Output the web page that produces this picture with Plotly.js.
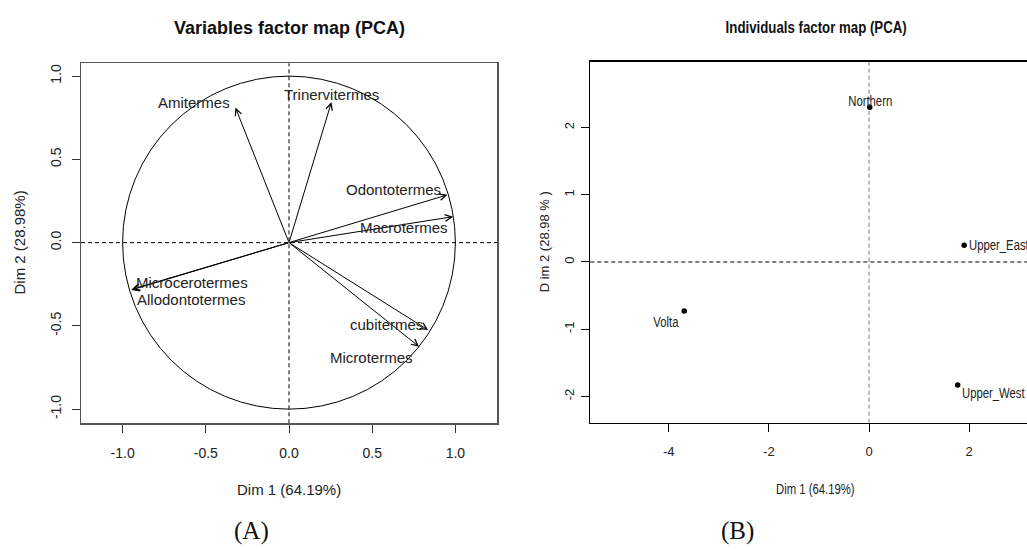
<!DOCTYPE html>
<html>
<head>
<meta charset="utf-8">
<script src="https://cdn.plot.ly/plotly-3.0.1.min.js"></script>
<style>
html,body{margin:0;padding:0;background:#fff;overflow:hidden;}
#chart{width:1080px;height:549px;}
</style>
</head>
<body>
<div id="chart"></div>
<script>
// ---- Data: variables factor map (correlation circle) ----
var varNames = ['Amitermes','Trinervitermes','Odontotermes','Macrotermes','Microcerotermes','Allodontotermes','cubitermes','Microtermes'];
var varDim1  = [-0.322, 0.255, 0.952, 0.986, -0.947, -0.944, 0.836, 0.782];
var varDim2  = [ 0.811, 0.844, 0.287, 0.156, -0.284, -0.280, -0.525, -0.625];
// label placement for each variable: anchor side and pixel offsets
var varLabAnchor = ['right','center','right','right','left','left','right','right'];
var varLabDx     = [-3, 0, -4, -3, 3, 3, -3, -4];
var varLabDy     = [ 5, 8,  5, -11, 7, -10, 6, -11];

// ---- Data: individuals factor map ----
var indNames = ['Northern','Upper_East','Volta','Upper_West'];
var indDim1  = [0.014, 1.90, -3.69, 1.77];
var indDim2  = [2.30, 0.248, -0.729, -1.83];
var indLabAnchor = ['center','left','right','left'];
var indLabDx     = [0, 3, -3, 2];
var indLabDy     = [6, 0, -11, -8];

// ---- Tick values / labels ----
var varTicks     = [-1.0, -0.5, 0.0, 0.5, 1.0];
var varTickText  = ['-1.0', '-0.5', '0.0', '0.5', '1.0'];
var indXTicks    = [-4, -2, 0, 2];
var indXTickText = ['-4', '-2', '0', '2'];
var indYTicks    = [-2, -1, 0, 1, 2];
var indYTickText = ['-2', '-1', '0', '1', '2'];
var circleRadius = 1;

var W = 1080, H = 549;
function dx(p){ return p / W; }
function dy(p){ return 1 - p / H; }

var sans = 'Liberation Sans, Arial, sans-serif';
var serif = 'Liberation Serif, Times New Roman, serif';

var traces = [
  {
    x: indDim1, y: indDim2, xaxis: 'x2', yaxis: 'y2',
    type: 'scatter', mode: 'markers',
    marker: {color: '#000', size: 5.5},
    hoverinfo: 'skip', showlegend: false
  }
];

var shapes = [
  {type: 'circle', xref: 'x', yref: 'y', x0: -circleRadius, x1: circleRadius, y0: -circleRadius, y1: circleRadius,
   line: {color: '#000', width: 1}, layer: 'below'},
  {type: 'line', xref: 'x', yref: 'y domain', x0: 0, x1: 0, y0: 0, y1: 1, line: {color: '#000', width: 1, dash: '4px,3px'}, layer: 'below'},
  {type: 'line', xref: 'x domain', yref: 'y', x0: 0, x1: 1, y0: 0, y1: 0, line: {color: '#000', width: 1, dash: '4px,3px'}, layer: 'below'},
  {type: 'line', xref: 'x2', yref: 'y2 domain', x0: 0, x1: 0, y0: 0, y1: 1, line: {color: '#777', width: 1, dash: '4px,3px'}, layer: 'below'},
  {type: 'line', xref: 'x2 domain', yref: 'y2', x0: 0, x1: 1, y0: 0, y1: 0, line: {color: '#000', width: 1, dash: '4px,3px'}, layer: 'below'}
];

var annotations = [];
var compress = []; // [annotation index, transform origin]
for (var i = 0; i < varNames.length; i++) {
  annotations.push({
    xref: 'x', yref: 'y', axref: 'x', ayref: 'y',
    x: varDim1[i], y: varDim2[i], ax: 0, ay: 0,
    text: ' ', font: {size: 1}, borderpad: 0,
    showarrow: true, arrowhead: 5, arrowsize: 1.3, arrowwidth: 1, arrowcolor: '#000'
  });
}
for (var i = 0; i < varNames.length; i++) {
  annotations.push({
    xref: 'x', yref: 'y', x: varDim1[i], y: varDim2[i],
    text: varNames[i], showarrow: false,
    xanchor: varLabAnchor[i], yanchor: 'middle',
    xshift: varLabDx[i], yshift: varLabDy[i],
    font: {family: sans, size: 15, color: '#222'}
  });
}
for (var i = 0; i < indNames.length; i++) {
  compress.push([annotations.length, indLabAnchor[i]]);
  annotations.push({
    xref: 'x2', yref: 'y2', x: indDim1[i], y: indDim2[i],
    text: indNames[i], showarrow: false,
    xanchor: indLabAnchor[i], yanchor: 'middle',
    xshift: indLabDx[i], yshift: indLabDy[i],
    font: {family: sans, size: 14.5, color: '#222'}
  });
}
function paperText(txt, px, py, font, angle, squeeze) {
  if (squeeze) compress.push([annotations.length, 'center']);
  annotations.push({xref: 'paper', yref: 'paper', x: dx(px), y: dy(py), text: txt, showarrow: false,
    xanchor: 'center', yanchor: 'middle', font: font, textangle: angle || 0});
}
paperText('<b>Variables factor map (PCA)</b>', 289, 28, {family: sans, size: 18, color: '#111'});
paperText('Dim 1 (64.19%)', 289, 489, {family: sans, size: 15, color: '#222'});
paperText('Dim 2 (28.98%)', 18.5, 243, {family: sans, size: 15, color: '#222'}, -90);
paperText('(A)', 251.5, 531, {family: serif, size: 25, color: '#111'});

paperText('<b>Individuals factor map (PCA)</b>', 815.8, 28, {family: sans, size: 17, color: '#111'}, 0, true);
paperText('Dim 1 (64.19%)', 815.7, 489, {family: sans, size: 14.5, color: '#222'}, 0, true);
paperText('D im 2 (28.98 % )', 544.3, 242, {family: sans, size: 13, color: '#222'}, -90);
paperText('(B)', 737.3, 531, {family: serif, size: 25, color: '#111'});

var axCommon = {
  showgrid: false, zeroline: false, showline: true, mirror: true,
  ticks: 'outside', ticklen: 8, tickwidth: 1, fixedrange: true
};

var layout = {
  width: W, height: H,
  margin: {l: 0, r: 0, t: 0, b: 0},
  paper_bgcolor: '#fff', plot_bgcolor: '#fff',
  showlegend: false,
  xaxis: Object.assign({}, axCommon, {
    domain: [dx(81), dx(497)], range: [-1.25, 1.25], anchor: 'y',
    tickmode: 'array', tickvals: varTicks, ticktext: varTickText,
    linecolor: '#555', linewidth: 1.5, tickcolor: '#333',
    tickfont: {family: sans, size: 14, color: '#222'}, ticklabelstandoff: 8
  }),
  yaxis: Object.assign({}, axCommon, {
    domain: [dy(423.3), dy(63.3)], range: [-1.085, 1.077], anchor: 'x',
    tickmode: 'array', tickvals: varTicks, ticktext: varTickText, tickangle: -90,
    linecolor: '#555', linewidth: 1.5, tickcolor: '#333',
    tickfont: {family: sans, size: 14, color: '#222'}, ticklabelstandoff: 5
  }),
  xaxis2: Object.assign({}, axCommon, {
    domain: [dx(590.3), dx(1040.3)], range: [-5.566, 3.42], anchor: 'y2',
    tickmode: 'array', tickvals: indXTicks, ticktext: indXTickText,
    linecolor: '#000', linewidth: 1.5, tickcolor: '#000',
    tickfont: {family: sans, size: 13, color: '#222'}, ticklabelstandoff: 8
  }),
  yaxis2: Object.assign({}, axCommon, {
    domain: [dy(422.7), dy(61.7)], range: [-2.39, 2.978], anchor: 'x2',
    tickmode: 'array', tickvals: indYTicks, ticktext: indYTickText, tickangle: -90,
    linecolor: '#000', linewidth: 1.5, tickcolor: '#000',
    tickfont: {family: sans, size: 13, color: '#222'}, ticklabelstandoff: 2
  }),
  shapes: shapes,
  annotations: annotations
};

Plotly.newPlot('chart', traces, layout, {staticPlot: true, displayModeBar: false}).then(function (gd) {
  // the right-hand panel of the reference is horizontally condensed: squeeze its texts
  compress.forEach(function (c) {
    var g = gd.querySelector('g.annotation[data-index="' + c[0] + '"] text.annotation-text');
    if (!g) return;
    g.style.transformBox = 'fill-box';
    g.style.transformOrigin = c[1] + ' center';
    g.style.transform = 'scaleX(0.78)';
  });
});
</script>
</body>
</html>
